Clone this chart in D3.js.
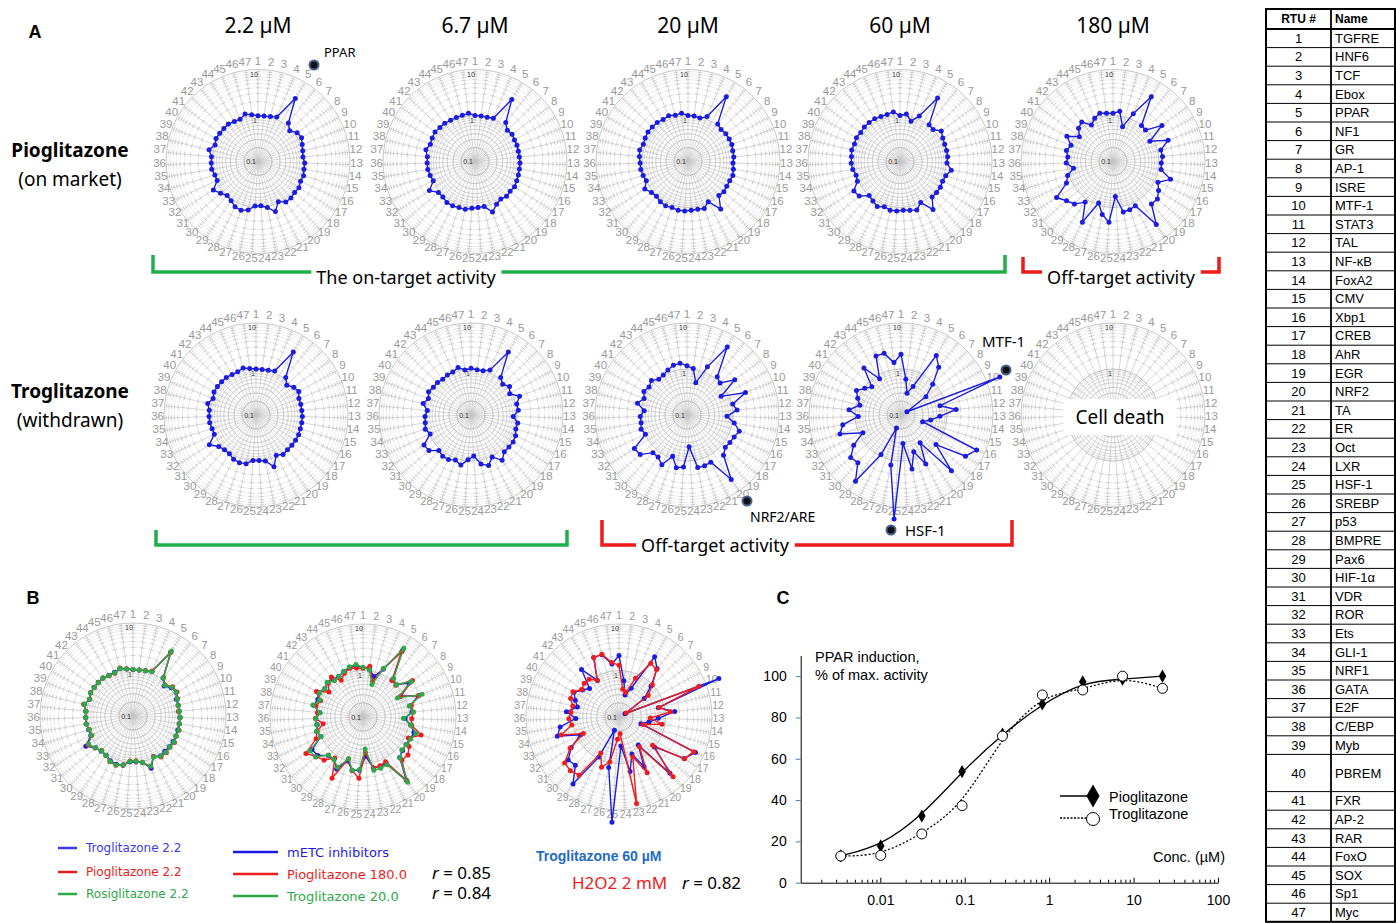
<!DOCTYPE html>
<html>
<head>
<meta charset="utf-8">
<script src="https://cdn.jsdelivr.net/npm/d3@7"></script>
<style>
  body { margin: 0; background: #fff; }
  svg { display: block; font-family: "Liberation Sans", Arial, sans-serif; }
</style>
</head>
<body>
<svg id="fig" width="1396" height="923"></svg>
<script>
// RTU spokes (1..47) and their names
const rtuIds = d3.range(1, 48);
const rtuNames = ["TGFRE","HNF6","TCF","Ebox","PPAR","NF1","GR","AP-1","ISRE","MTF-1","STAT3","TAL","NF-κB","FoxA2","CMV","Xbp1","CREB","AhR","EGR","NRF2","TA","ER","Oct","LXR","HSF-1","SREBP","p53","BMPRE","Pax6","HIF-1α","VDR","ROR","Ets","GLI-1","NRF1","GATA","E2F","C/EBP","Myb","PBREM","FXR","AP-2","RAR","FoxO","SOX","Sp1","Myc"];

const doseLabels = ["2.2 µM", "6.7 µM", "20 µM", "60 µM", "180 µM"];

// fold induction per RTU
const pio22  = [0.99,0.99,1.04,1.12,3.9,1.16,0.91,1.14,1.2,1.07, 1.0,0.96,1.04,1.03,1.09,1.05,1.14,1.1,1.17,1.17, 0.95,1.42,1.05,0.92,0.93,1.19,1.33,1.27,1.08,1.0, 1.17,1.42,0.95,0.96,1.05,1.04,1.04,1.24,1.0,1.1, 1.08,1.08,1.1,1.02,1.0,1.17,1.06];
const pio67  = [1.0,1.0,1.0,1.05,3.7,1.2,0.95,1.0,0.95,0.95, 0.93,0.93,0.95,0.95,0.97,1.0,1.05,1.0,1.05,0.98, 1.1,1.45,1.0,1.0,1.05,1.15,1.15,1.2,1.2,1.1, 1.1,1.5,1.0,1.05,1.1,1.1,1.1,1.25,1.1,1.15, 1.2,1.15,1.15,1.1,1.1,1.1,1.15];
const pio20  = [1.0,1.0,0.95,1.15,4.3,1.1,1.0,1.05,1.05,1.05, 1.0,1.0,0.95,1.0,1.05,1.0,1.0,1.05,1.0,1.8, 0.95,1.2,1.15,1.15,1.2,1.2,1.15,1.2,1.15,1.05, 1.1,1.3,1.0,1.05,1.1,1.1,1.15,1.2,1.1,1.15, 1.2,1.2,1.2,1.15,1.2,1.1,1.15];
const pio60  = [1.0,1.1,0.81,1.19,4.0,1.05,1.0,1.3,1.15,1.1, 1.1,1.1,1.05,1.35,1.1,1.05,1.1,1.1,1.1,1.85, 1.0,1.3,1.2,1.15,1.2,1.2,1.1,1.25,1.1,1.0, 1.45,1.55,1.05,1.0,1.1,1.15,1.15,1.2,1.15,1.2, 1.15,1.2,1.2,1.2,1.15,1.15,1.22];
const pio180 = [1.12,1.26,0.61,1.35,4.3,1.0,0.96,2.1,0.82,1.92, 1.17,1.21,1.12,1.15,2.04,1.19,1.5,1.84,1.76,4.6, 1.19,1.29,1.32,0.58,2.1,1.5,0.9,3.0,1.17,1.77, 2.1,2.85,1.3,1.08,0.74,1.04,0.97,1.1,0.95,1.39, 0.81,1.1,1.25,0.83,1.05,1.22,1.15];
const trog22 = [1.0,1.0,1.02,1.1,3.9,1.1,0.85,1.05,1.15,1.0, 1.0,1.0,1.02,1.02,1.02,1.05,1.05,1.05,1.05,1.1, 0.95,1.55,1.05,0.98,0.98,1.2,1.25,1.2,1.05,1.05, 1.15,1.6,1.0,1.0,1.05,1.05,1.05,1.2,1.0,1.1, 1.1,1.1,1.1,1.05,1.05,1.15,1.05];
const trog67 = [1.04,0.98,0.99,1.16,3.9,1.1,0.91,1.1,0.91,1.35, 1.05,1.08,0.83,1.07,1.05,1.17,1.22,1.2,1.2,1.57, 1.05,1.46,1.22,0.78,0.95,1.29,1.08,1.22,1.22,1.1, 1.58,1.63,0.95,1.1,1.02,1.0,0.9,1.17,0.98,1.13, 1.04,1.03,0.98,1.02,1.04,1.17,0.97];
const trog20 = [1.17,1.05,0.53,1.37,5.2,1.15,1.0,1.95,0.7,2.3, 1.05,1.24,0.74,1.1,1.55,1.35,1.28,1.23,1.52,5.0, 1.41,1.47,1.47,0.49,1.35,1.48,0.89,1.63,1.29,1.27, 2.15,2.28,0.99,1.11,1.03,1.04,0.86,1.28,1.0,1.17, 1.06,1.19,0.98,1.03,1.16,1.32,1.37];
const trog60 = [2.1,0.61,0.31,0.47,3.2,2.1,0.91,0.47,0.14,20, 0.74,1.6,0.7,0.45,0.31,6.5,4.6,0.99,4.3,0.54, 1.57,0.7,1.57,0.42,18.5,1.29,0.2,0.92,5.6,2.5, 2.7,1.66,0.82,2.45,1.92,0.85,1.37,0.83,1.02,1.27, 0.95,0.76,2.0,0.82,2.47,2.45,1.41];
const rosi22 = [1.0,1.0,1.02,1.08,4.2,1.12,0.9,1.1,1.15,1.05, 1.0,1.0,1.03,1.03,1.07,1.05,1.1,1.08,1.12,1.12, 0.97,1.4,1.05,0.95,0.95,1.17,1.3,1.25,1.07,1.02, 1.15,1.35,0.97,0.97,1.05,1.05,1.05,1.2,1.02,1.1, 1.08,1.08,1.1,1.03,1.02,1.15,1.05];
const metc   = [1.15,1.1,0.8,1.3,4.6,1.1,1.0,1.7,0.85,1.9, 1.1,1.15,0.8,1.1,1.4,1.3,1.25,1.3,1.5,4.4, 1.3,1.35,1.3,0.7,1.4,1.5,1.0,1.8,1.25,1.3, 1.9,2.0,1.0,1.1,1.0,1.05,0.85,1.25,1.1,1.25, 1.05,1.15,1.05,1.05,1.15,1.25,1.3];
const h2o2   = [1.3,0.4,0.35,0.8,2.2,2.0,1.0,0.6,0.15,6.9, 0.77,1.3,0.47,0.87,0.35,5.9,4.7,0.88,5.4,0.6, 2.2,0.8,7.9,0.23,0.3,0.97,1.4,0.74,3.3,3.6, 3.4,1.76,0.7,2.0,1.07,1.2,1.1,1.05,1.3,1.35, 1.0,1.1,1.08,0.83,2.47,2.5,1.52];

// panel C: PPAR dose response
const concC = [0.0034, 0.0101, 0.031, 0.093, 0.28, 0.83, 2.5, 7.4, 22];
const pioC  = [13, 17.8, 32.3, 53.8, 72, 86.5, 97.3, 98.5, 100];
const trogC = [12.9, 13.2, 23.6, 37.3, 71, 90.9, 93.3, 100, 94.1];
const xTicksC = [0.01, 0.1, 1, 10, 100];
const yTicksC = [0, 20, 40, 60, 80, 100];

const BLUE = '#1c1ce0', RED = '#ee1c1c', GREEN = '#2fa84a';
const svg = d3.select('#fig');

function radar(cx, cy, R, series, fs, noCenter) {
  const g = svg.append('g').attr('transform', `translate(${cx},${cy})`);
  const r = d3.scaleLog().domain([0.1, 10]).range([0, R]);
  const a = d3.scaleLinear().domain([0, rtuIds.length]).range([0, 2 * Math.PI]);
  const minor = [0.2,0.3,0.4,0.5,0.6,0.7,0.8,0.9,2,3,4,5,6,7,8,9];

  g.append('g').selectAll('circle').data(minor).join('circle')
    .attr('r', d => r(d)).attr('fill', 'none')
    .attr('stroke', '#ececec').attr('stroke-width', 0.8);

  // spokes with little cross ticks
  let p = '';
  rtuIds.forEach((id, i) => {
    const t = a(i);
    const [x1, y1] = d3.pointRadial(t, R);
    p += `M0,0L${x1},${y1}`;
    const c = Math.cos(t), s = Math.sin(t);
    minor.concat([1]).forEach(v => {
      const [px, py] = d3.pointRadial(t, r(v));
      p += `M${px - 2.2 * c},${py - 2.2 * s}L${px + 2.2 * c},${py + 2.2 * s}`;
    });
  });
  g.append('path').attr('d', p).attr('fill', 'none')
    .attr('stroke', '#c4c4c4').attr('stroke-width', 0.7);

  g.append('g').selectAll('circle').data([1, 10]).join('circle')
    .attr('r', d => r(d)).attr('fill', 'none')
    .attr('stroke', '#c6c6c6').attr('stroke-width', 1);

  if (!noCenter) {
    g.append('text').attr('x', -7).attr('y', 2.5).attr('text-anchor', 'middle')
      .attr('font-size', 7).attr('fill', '#333').text('0.1');
  }
  g.append('text').attr('x', -3).attr('y', -r(1) + 7).attr('text-anchor', 'middle')
    .attr('font-size', 7).attr('fill', '#333').text('1');
  g.append('text').attr('x', -4).attr('y', -R + 7).attr('text-anchor', 'middle')
    .attr('font-size', 7).attr('fill', '#333').text('10');

  g.append('g').selectAll('text').data(rtuIds).join('text')
    .attr('x', (d, i) => d3.pointRadial(a(i), R + 6.5)[0])
    .attr('y', (d, i) => d3.pointRadial(a(i), R + 6.5)[1])
    .attr('dy', '0.15em').attr('text-anchor', 'middle')
    .attr('font-family', 'Liberation Sans').attr('font-size', fs).attr('fill', '#999')
    .text(d => d);

  const line = d3.lineRadial().angle((d, i) => a(i)).radius(d => r(d)).curve(d3.curveLinearClosed);
  series.forEach(sr => {
    g.append('path').datum(sr.values).attr('d', line)
      .attr('fill', 'none').attr('stroke', sr.color).attr('stroke-width', 1.4);
    g.append('g').selectAll('circle').data(sr.values).join('circle')
      .attr('cx', (d, i) => d3.pointRadial(a(i), r(d))[0])
      .attr('cy', (d, i) => d3.pointRadial(a(i), r(d))[1])
      .attr('r', 2.5).attr('fill', sr.color);
  });
  return g;
}

// ---------- panel A ----------
const rowA1 = [pio22, pio67, pio20, pio60, pio180];
const rowA2 = [trog22, trog67, trog20, trog60, null];
const xA1 = [258, 475, 688, 900, 1113];
const xA2 = [256, 471, 687, 901, 1113];

rowA1.forEach((v, i) => radar(xA1[i], 161.5, 92, [{ values: v, color: BLUE }], 11.5));
rowA2.forEach((v, i) => radar(xA2[i], 415, 92, v ? [{ values: v, color: BLUE }] : [], 11.5, !v));

const big = 'Noto Sans, Open Sans, sans-serif';
svg.append('text').attr('x', 35).attr('y', 38).attr('text-anchor', 'middle')
  .attr('font-weight', 'bold').attr('font-size', 18).text('A');
svg.selectAll('text.dose').data(doseLabels).join('text')
  .attr('x', (d, i) => xA1[i]).attr('y', 33).attr('text-anchor', 'middle')
  .attr('font-family', big).attr('font-size', 21).text(d => d);

function rowLabel(y, name, sub) {
  svg.append('text').attr('x', 70).attr('y', y).attr('text-anchor', 'middle')
    .attr('font-family', big).attr('font-size', 19).attr('font-weight', 'bold').text(name);
  svg.append('text').attr('x', 70).attr('y', y + 29).attr('text-anchor', 'middle')
    .attr('font-family', big).attr('font-size', 19).text(sub);
}
rowLabel(157, 'Pioglitazone', '(on market)');
rowLabel(398, 'Troglitazone', '(withdrawn)');

function bracket(x0, x1, y, h, color, label, lx, ty) {
  svg.append('path').attr('d', `M${x0},${y - h}V${y}H${x1}V${y - h}`)
    .attr('fill', 'none').attr('stroke', color).attr('stroke-width', 3.5);
  if (label) {
    const t = svg.append('text').attr('x', lx).attr('y', ty).attr('text-anchor', 'middle')
      .attr('font-family', big).attr('font-size', 18).text(label);
    const bb = t.node().getBBox();
    svg.insert('rect', () => t.node()).attr('x', bb.x - 5).attr('y', y - 4)
      .attr('width', bb.width + 10).attr('height', 8).attr('fill', '#fff');
  }
}
bracket(153, 1005, 272, 17, '#1fae4b', 'The on-target activity', 406, 284);
bracket(1023, 1219, 272, 15, '#f01a1a', 'Off-target activity', 1121, 284);
bracket(156, 567, 545, 15, '#1fae4b', null);
bracket(602, 1012, 545, 25, '#f01a1a', 'Off-target activity', 715, 552);

function marker(x, y, label, tx, ty, fs, anchor) {
  svg.append('circle').attr('cx', x).attr('cy', y).attr('r', 4.5)
    .attr('fill', '#111').attr('stroke', '#46618f').attr('stroke-width', 2);
  svg.append('text').attr('x', tx).attr('y', ty).attr('text-anchor', anchor || 'start')
    .attr('font-family', big).attr('font-size', fs).text(label);
}
marker(314, 65, 'PPAR', 324, 57, 13);
marker(1006, 370, 'MTF-1', 982, 347, 15);
marker(747, 501, 'NRF2/ARE', 750, 522, 14);
marker(891, 530, 'HSF-1', 905, 536, 15);

// cell death box
const cd = svg.append('text').attr('x', 1120).attr('y', 424).attr('text-anchor', 'middle')
  .attr('font-family', big).attr('font-size', 19).text('Cell death');
const cdb = cd.node().getBBox();
svg.insert('rect', () => cd.node()).attr('x', cdb.x - 12).attr('y', cdb.y - 5)
  .attr('width', cdb.width + 24).attr('height', cdb.height + 10).attr('fill', '#fff');

// ---------- panel B ----------
svg.append('text').attr('x', 33).attr('y', 604).attr('text-anchor', 'middle')
  .attr('font-weight', 'bold').attr('font-size', 18).text('B');

radar(133, 716, 93, [
  { values: trog22, color: BLUE },
  { values: pio22, color: RED },
  { values: rosi22, color: GREEN }
], 11.5);
radar(363, 717, 93, [
  { values: metc, color: BLUE },
  { values: pio180, color: RED },
  { values: trog20, color: GREEN }
], 10.5);
radar(619, 717, 93, [
  { values: trog60, color: BLUE },
  { values: h2o2, color: RED }
], 10.5);

function legend(x, ys, len, gap, items, fs) {
  items.forEach((it, i) => {
    svg.append('line').attr('x1', x).attr('x2', x + len).attr('y1', ys[i]).attr('y2', ys[i])
      .attr('stroke', it.color).attr('stroke-width', 2.5);
    svg.append('text').attr('x', x + len + gap).attr('y', ys[i] + fs * 0.36)
      .attr('font-family', 'DejaVu Sans').attr('font-size', fs).attr('fill', it.color).text(it.name);
  });
}
legend(58, [848, 872, 894], 19, 9, [
  { name: 'Troglitazone 2.2', color: '#3a3ae6' },
  { name: 'Pioglitazone 2.2', color: RED },
  { name: 'Rosiglitazone 2.2', color: GREEN }
], 12);
legend(233, [852, 874, 896], 45, 9, [
  { name: 'mETC inhibitors', color: BLUE },
  { name: 'Pioglitazone 180.0', color: RED },
  { name: 'Troglitazone 20.0', color: GREEN }
], 13);

function rText(x, y, val) {
  const t = svg.append('text').attr('x', x).attr('y', y).attr('font-family', big).attr('font-size', 17);
  t.append('tspan').attr('font-style', 'italic').text('r');
  t.append('tspan').text(' = ' + val);
}
rText(432, 879, '0.85');
rText(432, 899, '0.84');

svg.append('text').attr('x', 536).attr('y', 861).attr('font-weight', 'bold')
  .attr('font-size', 14).attr('fill', '#1f6cc4').text('Troglitazone 60 µM');
svg.append('text').attr('x', 572).attr('y', 889).attr('font-family', big)
  .attr('font-size', 17).attr('fill', RED).text('H2O2 2 mM');
rText(682, 889, '0.82');

// ---------- panel C ----------
svg.append('text').attr('x', 783).attr('y', 604).attr('text-anchor', 'middle')
  .attr('font-weight', 'bold').attr('font-size', 18).text('C');

const xC = d3.scaleLog().domain([0.00114, 100]).range([800.7, 1218]);
const yC = d3.scaleLinear().domain([0, 110]).range([882.7, 655.5]);

const minorC = [];
[0.001, 0.01, 0.1, 1, 10].forEach(b => d3.range(2, 10).forEach(k => {
  const v = b * k;
  if (v >= 0.00114 && v < 100) minorC.push(v);
}));

svg.append('g').attr('transform', 'translate(0,882.7)')
  .call(d3.axisBottom(xC).tickValues(minorC).tickSize(-3).tickSizeOuter(0).tickFormat(''))
  .call(g => g.select('.domain').remove())
  .call(g => g.selectAll('line').attr('stroke', '#000'));
svg.append('g').attr('transform', 'translate(0,882.7)')
  .call(d3.axisBottom(xC).tickValues(xTicksC).tickSize(-5).tickSizeOuter(0).tickPadding(12)
    .tickFormat(d3.format('~g')))
  .call(g => g.selectAll('text').attr('font-size', 14).attr('font-family', 'Liberation Sans'));

svg.append('g').attr('transform', 'translate(800.7,0)')
  .call(d3.axisLeft(yC).tickValues(yTicksC).tickSize(5).tickSizeOuter(0).tickPadding(9))
  .call(g => g.selectAll('.tick line').attr('stroke', '#4a7ebb'))
  .call(g => g.selectAll('text').attr('font-size', 14).attr('font-family', 'Liberation Sans'));

const ptsPio = concC.map((c, i) => [c, pioC[i]]);
const ptsTrog = concC.map((c, i) => [c, trogC[i]]);
const lineC = d3.line().x(d => xC(d[0])).y(d => yC(d[1])).curve(d3.curveBasis);

svg.append('path').datum(ptsPio).attr('d', lineC).attr('fill', 'none')
  .attr('stroke', '#000').attr('stroke-width', 1.3);
svg.append('path').datum(ptsTrog).attr('d', lineC).attr('fill', 'none')
  .attr('stroke', '#000').attr('stroke-width', 1.3).attr('stroke-dasharray', '2,2');

const diamond = d3.symbol().type(d3.symbolDiamond).size(50);
svg.append('g').selectAll('path').data(ptsPio).join('path')
  .attr('transform', d => `translate(${xC(d[0])},${yC(d[1])})`).attr('d', diamond).attr('fill', '#000');
svg.append('g').selectAll('circle').data(ptsTrog).join('circle')
  .attr('cx', d => xC(d[0])).attr('cy', d => yC(d[1])).attr('r', 5)
  .attr('fill', '#fff').attr('stroke', '#000').attr('stroke-width', 1);

svg.append('text').attr('x', 815).attr('y', 662).attr('font-size', 14.5).text('PPAR induction,');
svg.append('text').attr('x', 815).attr('y', 680).attr('font-size', 14.5).text('% of max. activity');
svg.append('text').attr('x', 1225).attr('y', 862).attr('text-anchor', 'end').attr('font-size', 14.5).text('Conc. (µM)');

svg.append('line').attr('x1', 1060).attr('x2', 1092).attr('y1', 796).attr('y2', 796)
  .attr('stroke', '#000').attr('stroke-width', 1.5);
svg.append('path').attr('transform', 'translate(1093,796)')
  .attr('d', d3.symbol().type(d3.symbolDiamond).size(150)).attr('fill', '#000');
svg.append('text').attr('x', 1109).attr('y', 802).attr('font-size', 14.5).text('Pioglitazone');
svg.append('line').attr('x1', 1060).attr('x2', 1086).attr('y1', 818).attr('y2', 818)
  .attr('stroke', '#000').attr('stroke-width', 1.5).attr('stroke-dasharray', '2,1.5');
svg.append('circle').attr('cx', 1093).attr('cy', 819).attr('r', 6.5)
  .attr('fill', '#fff').attr('stroke', '#000').attr('stroke-width', 1);
svg.append('text').attr('x', 1109).attr('y', 819).attr('font-size', 14.5).text('Troglitazone');

// ---------- RTU table ----------
const tx0 = 1266, tx1 = 1331, tx2 = 1395, ty0 = 9, headH = 20, rowH = 18.6, tallRow = 40;
const tbl = svg.append('g').attr('font-size', 13);
let yy = ty0 + headH;
const rowsY = rtuIds.map(id => {
  const h = id === tallRow ? rowH * 2 : rowH;
  const row = { id, y: yy, h };
  yy += h;
  return row;
});
const tableBottom = yy;

tbl.selectAll('line.row').data(rowsY).join('line')
  .attr('x1', tx0).attr('x2', tx2).attr('y1', d => d.y + d.h).attr('y2', d => d.y + d.h)
  .attr('stroke', '#000').attr('stroke-width', 1);
tbl.append('line').attr('x1', tx0).attr('x2', tx2).attr('y1', ty0 + headH).attr('y2', ty0 + headH)
  .attr('stroke', '#000').attr('stroke-width', 2);
tbl.append('line').attr('x1', tx1).attr('x2', tx1).attr('y1', ty0).attr('y2', tableBottom)
  .attr('stroke', '#000').attr('stroke-width', 1.8);
tbl.append('rect').attr('x', tx0).attr('y', ty0).attr('width', tx2 - tx0).attr('height', tableBottom - ty0)
  .attr('fill', 'none').attr('stroke', '#000').attr('stroke-width', 2);

tbl.append('text').attr('x', (tx0 + tx1) / 2).attr('y', ty0 + 14).attr('text-anchor', 'middle')
  .attr('font-weight', 'bold').attr('font-size', 12).text('RTU #');
tbl.append('text').attr('x', tx1 + 4).attr('y', ty0 + 14)
  .attr('font-weight', 'bold').attr('font-size', 12).text('Name');
tbl.selectAll('text.id').data(rowsY).join('text')
  .attr('x', (tx0 + tx1) / 2).attr('y', d => d.y + d.h / 2 + 4.5).attr('text-anchor', 'middle')
  .text(d => d.id);
tbl.selectAll('text.nm').data(rowsY).join('text')
  .attr('x', tx1 + 4).attr('y', d => d.y + d.h / 2 + 4.5)
  .text(d => rtuNames[d.id - 1]);
</script>
</body>
</html>
